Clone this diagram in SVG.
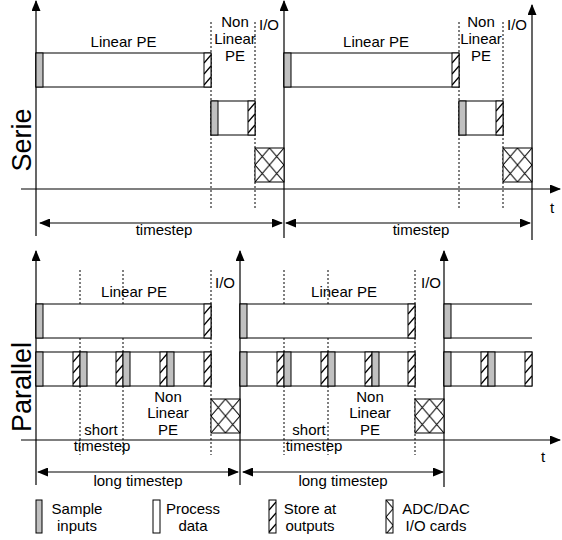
<svg xmlns="http://www.w3.org/2000/svg" width="562" height="540" viewBox="0 0 562 540">
<style>
text{font-family:"Liberation Sans",Arial,sans-serif;font-size:15px;fill:#000;text-anchor:middle}
.big{font-size:27px}
.ax{stroke:#000;stroke-width:1.2;fill:none}
.dot{stroke:#000;stroke-width:1;stroke-dasharray:2,2;fill:none}
.box{fill:#fff;stroke:#000;stroke-width:1}
.ln{stroke:#000;stroke-width:1;fill:none}
.gr{fill:#c0c0c0;stroke:#000;stroke-width:1}
.ht{fill:url(#hatch);stroke:#000;stroke-width:1}
.cx{fill:url(#cross);stroke:#000;stroke-width:1}
</style>
<defs>
<marker id="ah" markerUnits="userSpaceOnUse" markerWidth="11" markerHeight="9" refX="10" refY="4.5" orient="auto-start-reverse" viewBox="0 0 11 9">
<path d="M0,0 L11,4.5 L0,9 z" fill="#000"/>
</marker>
<pattern id="hatch" patternUnits="userSpaceOnUse" width="7" height="11">
<rect width="7" height="11" fill="#fff"/>
<path d="M0,10 L7,2" stroke="#000" stroke-width="1.3"/>
</pattern>
<pattern id="cross" patternUnits="userSpaceOnUse" width="14.5" height="17">
<rect width="14.5" height="17" fill="#fff"/>
<path d="M0,0 L14.5,17 M14.5,0 L0,17" stroke="#000" stroke-width="1"/>
</pattern>
<rect id="g34" class="gr" width="7" height="34"/>
<rect id="h34" class="ht" width="7" height="34"/>
<rect id="c34" class="cx" width="29" height="34"/>
</defs>

<g id="connectors">
<line class="ax" x1="36" y1="236" x2="36" y2="1" marker-end="url(#ah)"/>
<line class="ax" x1="284" y1="238" x2="284" y2="1" marker-end="url(#ah)"/>
<line class="ax" x1="532" y1="240" x2="532" y2="5" marker-end="url(#ah)"/>
<line class="ax" x1="21" y1="189" x2="560" y2="189" marker-end="url(#ah)"/>
<line class="ax" x1="40" y1="223" x2="282" y2="223" marker-start="url(#ah)" marker-end="url(#ah)"/>
<line class="ax" x1="286" y1="223" x2="530" y2="223" marker-start="url(#ah)" marker-end="url(#ah)"/>
<line class="dot" x1="211" y1="22" x2="211" y2="209"/>
<line class="dot" x1="255" y1="22" x2="255" y2="209"/>
<line class="dot" x1="459" y1="22" x2="459" y2="209"/>
<line class="dot" x1="503" y1="22" x2="503" y2="209"/>
<line class="ax" x1="36" y1="485" x2="36" y2="251" marker-end="url(#ah)"/>
<line class="ax" x1="240" y1="485" x2="240" y2="251" marker-end="url(#ah)"/>
<line class="ax" x1="444" y1="487" x2="444" y2="251" marker-end="url(#ah)"/>
<line class="ax" x1="21" y1="440" x2="560" y2="440" marker-end="url(#ah)"/>
<line class="ax" x1="38" y1="472" x2="238" y2="472" marker-start="url(#ah)" marker-end="url(#ah)"/>
<line class="ax" x1="243" y1="472" x2="443" y2="472" marker-start="url(#ah)" marker-end="url(#ah)"/>
<line class="dot" x1="80" y1="270" x2="80" y2="455"/>
<line class="dot" x1="123" y1="270" x2="123" y2="455"/>
<line class="dot" x1="211" y1="270" x2="211" y2="455"/>
<line class="dot" x1="284" y1="270" x2="284" y2="455"/>
<line class="dot" x1="328" y1="270" x2="328" y2="455"/>
<line class="dot" x1="415" y1="270" x2="415" y2="455"/>
</g>

<g id="serie-label"><text class="big" transform="translate(31,140) rotate(-90)">Serie</text></g>
<g id="serie-linear-1">
<rect class="box" x="36" y="53" width="175" height="34"/>
<use href="#g34" x="36" y="53"/>
<use href="#h34" x="204" y="53"/>
<text x="123.5" y="47">Linear PE</text>
</g>
<g id="serie-nonlinear-1">
<rect class="box" x="211" y="101" width="44" height="34"/>
<use href="#g34" x="211" y="101"/>
<use href="#h34" x="248" y="101"/>
<text x="235" y="27">Non</text><text x="235" y="44">Linear</text><text x="235" y="61">PE</text>
</g>
<g id="serie-io-1">
<use href="#c34" x="255" y="148"/>
<text x="269" y="30">I/O</text>
</g>
<g id="serie-linear-2">
<rect class="box" x="284" y="53" width="175" height="34"/>
<use href="#g34" x="284" y="53"/>
<use href="#h34" x="452" y="53"/>
<text x="376" y="47">Linear PE</text>
</g>
<g id="serie-nonlinear-2">
<rect class="box" x="459" y="101" width="44" height="34"/>
<use href="#g34" x="459" y="101"/>
<use href="#h34" x="496" y="101"/>
<text x="481" y="27">Non</text><text x="481" y="44">Linear</text><text x="481" y="61">PE</text>
</g>
<g id="serie-io-2">
<use href="#c34" x="503" y="148"/>
<text x="517" y="30">I/O</text>
</g>
<g id="serie-axis-labels">
<text x="552" y="213">t</text>
<text x="164" y="235">timestep</text>
<text x="421" y="235">timestep</text>
</g>

<g id="parallel-label"><text class="big" transform="translate(31,387) rotate(-90)">Parallel</text></g>
<g id="par-linear-1">
<rect class="box" x="36" y="304" width="175" height="34"/>
<use href="#g34" x="36" y="304"/>
<use href="#h34" x="204" y="304"/>
<text x="134" y="297">Linear PE</text>
</g>
<g id="par-nonlinear-1">
<rect class="box" x="36" y="352" width="175" height="34"/>
<use href="#g34" x="36" y="352"/><use href="#h34" x="73" y="352"/>
<use href="#g34" x="80" y="352"/><use href="#h34" x="116" y="352"/>
<use href="#g34" x="123" y="352"/><use href="#h34" x="160" y="352"/>
<use href="#g34" x="167" y="352"/><use href="#h34" x="204" y="352"/>
<text x="168" y="402">Non</text><text x="168" y="418">Linear</text><text x="168" y="435">PE</text>
<text x="101" y="435">short</text><text x="102" y="451">timestep</text>
</g>
<g id="par-io-1">
<use href="#c34" x="211" y="399"/>
<text x="225" y="288">I/O</text>
</g>
<g id="par-linear-2">
<rect class="box" x="240" y="304" width="175" height="34"/>
<use href="#g34" x="240" y="304"/>
<use href="#h34" x="408" y="304"/>
<text x="344" y="297">Linear PE</text>
</g>
<g id="par-nonlinear-2">
<rect class="box" x="240" y="352" width="175" height="34"/>
<use href="#g34" x="240" y="352"/><use href="#h34" x="277" y="352"/>
<use href="#g34" x="284" y="352"/><use href="#h34" x="321" y="352"/>
<use href="#g34" x="328" y="352"/><use href="#h34" x="365" y="352"/>
<use href="#g34" x="372" y="352"/><use href="#h34" x="408" y="352"/>
<text x="370" y="402">Non</text><text x="370" y="418">Linear</text><text x="370" y="435">PE</text>
<text x="309" y="435">short</text><text x="314" y="451">timestep</text>
</g>
<g id="par-io-2">
<use href="#c34" x="415" y="399"/>
<text x="431" y="288">I/O</text>
</g>
<g id="par-linear-3">
<line class="ln" x1="444" y1="304" x2="532" y2="304"/>
<line class="ln" x1="444" y1="338" x2="532" y2="338"/>
<use href="#g34" x="444" y="304"/>
</g>
<g id="par-nonlinear-3">
<rect class="box" x="444" y="352" width="88" height="34"/>
<use href="#g34" x="444" y="352"/><use href="#h34" x="481" y="352"/>
<use href="#g34" x="488" y="352"/><use href="#h34" x="525" y="352"/>
</g>
<g id="par-axis-labels">
<text x="543" y="462">t</text>
<text x="138" y="486">long timestep</text>
<text x="343" y="486">long timestep</text>
</g>

<g id="legend-sample">
<rect class="gr" x="36" y="500" width="6" height="33"/>
<text x="77" y="514">Sample</text><text x="77" y="531">inputs</text>
</g>
<g id="legend-process">
<rect class="box" x="153" y="500" width="7" height="33"/>
<text x="193" y="514">Process</text><text x="193" y="531">data</text>
</g>
<g id="legend-store">
<g transform="translate(269,500)"><rect class="ht" width="7" height="33"/></g>
<text x="310" y="514">Store at</text><text x="310" y="531">outputs</text>
</g>
<g id="legend-adc">
<g transform="translate(386,500)"><rect class="cx" width="7" height="33"/></g>
<text x="436" y="514">ADC/DAC</text><text x="436" y="531">I/O cards</text>
</g>
</svg>
